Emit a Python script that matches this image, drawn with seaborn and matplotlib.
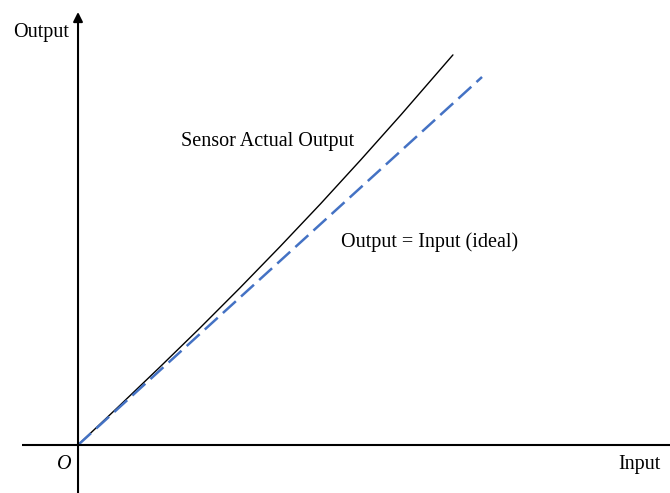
import numpy as np
import pandas as pd
import matplotlib
matplotlib.use("Agg")
import matplotlib.pyplot as plt
import seaborn as sns

entrada_real = [0.0, 0.10, 0.20, 0.30, 0.40, 0.50, 0.60, 0.70, 0.80, 0.928]
salida_real = [0.0, 0.104, 0.209, 0.316, 0.426, 0.539, 0.655, 0.775, 0.898, 1.060]

# linea ideal salida = entrada
entrada_ideal = [0.0, 1.0]
salida_ideal = [0.0, 1.0]

df_real = pd.DataFrame({'entrada': entrada_real, 'salida': salida_real})
df_ideal = pd.DataFrame({'entrada': entrada_ideal, 'salida': salida_ideal})

sns.set_style("white")
plt.rcParams['font.family'] = ['Liberation Serif', 'DejaVu Serif']
plt.rcParams['text.color'] = 'black'

fig = plt.figure(figsize=(6.7, 4.93), dpi=100)
ax = fig.add_axes([0, 0, 1, 1])
ax.set_xlim(-0.1931, 1.4653)
ax.set_ylim(-0.1304, 1.2092)
ax.axis('off')

sns.lineplot(data=df_real, x='entrada', y='salida', color='black', lw=1.0, ax=ax)
sns.lineplot(data=df_ideal, x='entrada', y='salida', color='#4472C4', lw=1.8,
             dashes=False, ax=ax)
ax.lines[-1].set_dashes((7, 2.8))
ax.lines[-1].set_dash_capstyle('butt')

# ejes con flechas
ax.plot([-0.1386, 1.4653], [0, 0], color='black', lw=1.5, solid_capstyle='butt')
ax.annotate('', xy=(0, 1.1766), xytext=(0, -0.1304),
            arrowprops=dict(arrowstyle='-|>', color='black', lw=1.5,
                            mutation_scale=14, shrinkA=0, shrinkB=0))

fs = 14.5
ax.text(-0.1609, 1.1087, 'Output', fontsize=fs, color='black', va='baseline', ha='left')
ax.text(-0.052, -0.0652, 'O', fontsize=fs, fontstyle='italic', color='black',
        va='baseline', ha='left')
ax.text(1.3366, -0.0652, 'Input', fontsize=fs, color='black', va='baseline', ha='left')
ax.text(0.255, 0.8125, 'Sensor Actual Output', fontsize=fs, color='black',
        va='baseline', ha='left')
ax.text(0.651, 0.538, 'Output = Input (ideal)', fontsize=fs, color='black',
        va='baseline', ha='left')

fig.savefig('out.png', dpi=100)
